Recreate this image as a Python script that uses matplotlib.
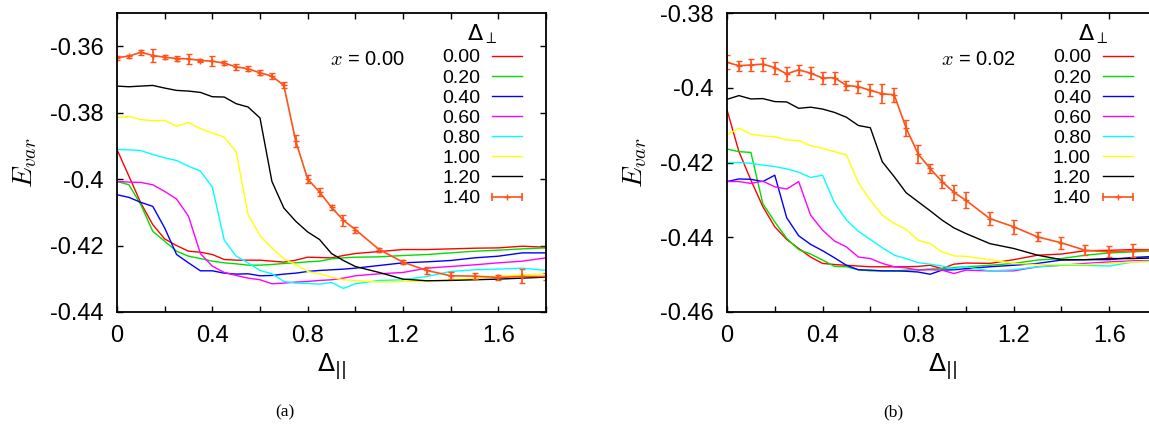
import matplotlib
matplotlib.use("Agg")
import matplotlib.pyplot as plt
from matplotlib.font_manager import FontProperties
from matplotlib.legend_handler import HandlerBase
from matplotlib.lines import Line2D
from matplotlib.ticker import MultipleLocator

plt.rcParams["font.family"] = ["Liberation Sans", "DejaVu Sans"]
plt.rcParams["mathtext.fontset"] = "cm"
plt.rcParams["axes.unicode_minus"] = False

# Delta_parallel grid shared by every curve
d_par = [0.0, 0.05, 0.1, 0.15, 0.2, 0.25, 0.3, 0.35, 0.4, 0.45, 0.5, 0.55, 0.6, 0.65,
         0.7, 0.75, 0.8, 0.85, 0.9, 0.95, 1.0, 1.1, 1.2, 1.3, 1.4, 1.5, 1.6, 1.7, 1.8]

d_perp_labels = ["0.00", "0.20", "0.40", "0.60", "0.80", "1.00", "1.20", "1.40"]
line_colors = ["#ff0000", "#00dd00", "#0000ff", "#ff00ff", "#00ffff", "#ffff00", "#000000"]
orange = "#ff5219"

# panel (a), x = 0.00
a_000 = [-0.3911, -0.3991, -0.4072, -0.4137, -0.4180, -0.4200, -0.4217, -0.4220, -0.4227, -0.4242,
         -0.4244, -0.4244, -0.4244, -0.4247, -0.4250, -0.4244, -0.4235, -0.4236, -0.4237, -0.4230,
         -0.4224, -0.4218, -0.4212, -0.4212, -0.4210, -0.4208, -0.4207, -0.4202, -0.4205]
a_020 = [-0.4007, -0.4017, -0.4077, -0.4157, -0.4187, -0.4217, -0.4232, -0.4239, -0.4247, -0.4252,
         -0.4255, -0.4259, -0.4259, -0.4257, -0.4254, -0.4252, -0.4249, -0.4247, -0.4240, -0.4237,
         -0.4235, -0.4234, -0.4230, -0.4227, -0.4222, -0.4217, -0.4214, -0.4210, -0.4207]
a_040 = [-0.4047, -0.4055, -0.4070, -0.4082, -0.4147, -0.4227, -0.4252, -0.4276, -0.4276, -0.4283,
         -0.4286, -0.4285, -0.4291, -0.4290, -0.4286, -0.4283, -0.4278, -0.4275, -0.4273, -0.4271,
         -0.4268, -0.4260, -0.4252, -0.4249, -0.4245, -0.4237, -0.4232, -0.4222, -0.4222]
a_060 = [-0.4007, -0.4009, -0.4010, -0.4017, -0.4037, -0.4060, -0.4112, -0.4224, -0.4262, -0.4281,
         -0.4290, -0.4298, -0.4303, -0.4315, -0.4313, -0.4310, -0.4308, -0.4305, -0.4303, -0.4298,
         -0.4291, -0.4285, -0.4281, -0.4268, -0.4263, -0.4258, -0.4252, -0.4247, -0.4237]
a_080 = [-0.3911, -0.3912, -0.3914, -0.3926, -0.3936, -0.3944, -0.3961, -0.3976, -0.4024, -0.4184,
         -0.4232, -0.4252, -0.4275, -0.4285, -0.4308, -0.4313, -0.4314, -0.4316, -0.4311, -0.4329,
         -0.4315, -0.4305, -0.4303, -0.4293, -0.4278, -0.4273, -0.4271, -0.4268, -0.4275]
a_100 = [-0.3815, -0.3811, -0.3821, -0.3824, -0.3823, -0.3841, -0.3830, -0.3848, -0.3861, -0.3874,
         -0.3918, -0.4107, -0.4170, -0.4207, -0.4240, -0.4258, -0.4278, -0.4285, -0.4295, -0.4303,
         -0.4305, -0.4310, -0.4308, -0.4308, -0.4303, -0.4298, -0.4293, -0.4288, -0.4285]
a_120 = [-0.3720, -0.3722, -0.3720, -0.3718, -0.3726, -0.3733, -0.3735, -0.3739, -0.3752, -0.3753,
         -0.3773, -0.3783, -0.3816, -0.4007, -0.4087, -0.4127, -0.4159, -0.4182, -0.4224, -0.4245,
         -0.4263, -0.4281, -0.4301, -0.4306, -0.4305, -0.4303, -0.4301, -0.4298, -0.4295]
a_140 = [-0.3634, -0.3630, -0.3618, -0.3628, -0.3633, -0.3637, -0.3638, -0.3643, -0.3645, -0.3651,
         -0.3662, -0.3668, -0.3680, -0.3690, -0.3718, -0.3886, -0.4000, -0.4039, -0.4085, -0.4124,
         -0.4152, -0.4212, -0.4250, -0.4275, -0.4291, -0.4292, -0.4296, -0.4293, -0.4293]
a_140_err = [0.0006, 0.0005, 0.0007, 0.0020, 0.0006, 0.0008, 0.0015, 0.0005, 0.0015, 0.0006,
             0.0009, 0.0008, 0.0008, 0.0009, 0.0009, 0.0018, 0.0012, 0.0012, 0.0007, 0.0017,
             0.0009, 0.0006, 0.0006, 0.0011, 0.0011, 0.0009, 0.0008, 0.0021, 0.0011]

# panel (b), x = 0.02
b_000 = [-0.4059, -0.4171, -0.4247, -0.4318, -0.4372, -0.4406, -0.4430, -0.4453, -0.4470, -0.4473,
         -0.4475, -0.4477, -0.4479, -0.4479, -0.4479, -0.4479, -0.4478, -0.4475, -0.4484, -0.4472,
         -0.4469, -0.4470, -0.4460, -0.4448, -0.4445, -0.4436, -0.4435, -0.4433, -0.4433]
b_020 = [-0.4164, -0.4171, -0.4173, -0.4310, -0.4359, -0.4403, -0.4433, -0.4445, -0.4461, -0.4478,
         -0.4479, -0.4487, -0.4490, -0.4490, -0.4490, -0.4488, -0.4487, -0.4485, -0.4484, -0.4481,
         -0.4479, -0.4475, -0.4470, -0.4461, -0.4457, -0.4448, -0.4442, -0.4439, -0.4436]
b_040 = [-0.4251, -0.4244, -0.4245, -0.4251, -0.4234, -0.4348, -0.4396, -0.4419, -0.4436, -0.4455,
         -0.4475, -0.4487, -0.4488, -0.4490, -0.4490, -0.4491, -0.4493, -0.4499, -0.4488, -0.4487,
         -0.4484, -0.4479, -0.4475, -0.4470, -0.4461, -0.4460, -0.4460, -0.4454, -0.4451]
b_060 = [-0.4251, -0.4251, -0.4256, -0.4250, -0.4265, -0.4271, -0.4251, -0.4341, -0.4381, -0.4410,
         -0.4426, -0.4453, -0.4457, -0.4470, -0.4479, -0.4482, -0.4488, -0.4487, -0.4488, -0.4497,
         -0.4488, -0.4490, -0.4490, -0.4479, -0.4475, -0.4470, -0.4466, -0.4463, -0.4462]
b_080 = [-0.4200, -0.4200, -0.4202, -0.4207, -0.4211, -0.4217, -0.4226, -0.4240, -0.4234, -0.4308,
         -0.4354, -0.4384, -0.4406, -0.4428, -0.4448, -0.4457, -0.4468, -0.4472, -0.4477, -0.4484,
         -0.4479, -0.4490, -0.4487, -0.4479, -0.4475, -0.4475, -0.4477, -0.4466, -0.4463]
b_100 = [-0.4126, -0.4108, -0.4124, -0.4129, -0.4131, -0.4140, -0.4141, -0.4155, -0.4162, -0.4171,
         -0.4180, -0.4254, -0.4301, -0.4341, -0.4363, -0.4379, -0.4408, -0.4417, -0.4439, -0.4450,
         -0.4451, -0.4460, -0.4470, -0.4473, -0.4473, -0.4473, -0.4470, -0.4466, -0.4466]
b_120 = [-0.4031, -0.4021, -0.4030, -0.4029, -0.4037, -0.4038, -0.4055, -0.4052, -0.4057, -0.4066,
         -0.4079, -0.4101, -0.4107, -0.4198, -0.4238, -0.4281, -0.4305, -0.4329, -0.4354, -0.4375,
         -0.4390, -0.4417, -0.4430, -0.4448, -0.4460, -0.4460, -0.4457, -0.4457, -0.4455]
b_140 = [-0.3932, -0.3941, -0.3939, -0.3937, -0.3946, -0.3963, -0.3952, -0.3961, -0.3974, -0.3973,
         -0.3994, -0.3997, -0.4007, -0.4016, -0.4019, -0.4108, -0.4177, -0.4216, -0.4251, -0.4280,
         -0.4301, -0.4350, -0.4372, -0.4399, -0.4415, -0.4435, -0.4439, -0.4436, -0.4434]
b_140_err = [0.0019, 0.0013, 0.0015, 0.0017, 0.0016, 0.0018, 0.0013, 0.0016, 0.0017, 0.0016,
             0.0013, 0.0016, 0.0016, 0.0025, 0.0018, 0.0022, 0.0025, 0.0013, 0.0018, 0.0021,
             0.0021, 0.0017, 0.0018, 0.0012, 0.0016, 0.0013, 0.0015, 0.0017, 0.0015]

x_ticks = [0, 0.4, 0.8, 1.2, 1.6]
x_tick_labels = ["0", "0.4", "0.8", "1.2", "1.6"]
a_y_ticks = [-0.44, -0.42, -0.40, -0.38, -0.36]
a_y_tick_labels = ["-0.44", "-0.42", "-0.4", "-0.38", "-0.36"]
b_y_ticks = [-0.46, -0.44, -0.42, -0.40, -0.38]
b_y_tick_labels = ["-0.46", "-0.44", "-0.42", "-0.4", "-0.38"]


class ErrKeyHandler(HandlerBase):
    # gnuplot style key: line with caps at both ends
    def create_artists(self, legend, orig_handle, xdescent, ydescent,
                       width, height, fontsize, trans):
        y = height / 2 - ydescent
        x0, x1 = -xdescent, width - xdescent
        line = Line2D([x0, x1], [y, y], color=orange, lw=1.2)
        caps = Line2D([x0, x1], [y, y], ls="none", marker="|", ms=6, mew=1.2, color=orange)
        mid = Line2D([(x0 + x1) / 2], [y], ls="none", marker="+", ms=4, mew=1.0, color=orange)
        for art in (line, caps, mid):
            art.set_transform(trans)
        return [line, caps, mid]


def draw_panel(ax, curves, top, top_err, ylim, yticks, yticklabels, x_text):
    handles = []
    for ys, color in zip(curves, line_colors):
        h, = ax.plot(d_par, ys, color=color, lw=1.0)
        handles.append(h)
    eb = ax.errorbar(d_par, top, yerr=top_err, color=orange, lw=1.2, elinewidth=1.2,
                     capsize=2, capthick=1.2, marker="+", ms=4, mew=1.0)
    handles.append(eb)

    ax.set_xlim(0, 1.8)
    ax.set_ylim(*ylim)
    ax.set_xticks(x_ticks)
    ax.set_xticklabels(x_tick_labels)
    ax.xaxis.set_minor_locator(MultipleLocator(0.2))
    ax.set_yticks(yticks)
    ax.set_yticklabels(yticklabels)
    ax.tick_params(which="both", direction="in", top=True, right=True,
                   length=4, width=1.0, labelsize=17)
    ax.tick_params(axis="x", pad=9)
    ax.tick_params(axis="y", pad=9.5)
    for sp in ax.spines.values():
        sp.set_linewidth(1.3)

    ax.set_xlabel(r"$\Delta_{||}$", fontsize=18, labelpad=3, math_fontfamily="dejavusans")
    ax.set_ylabel(r"$E_{var}$", fontsize=20, labelpad=8)
    ax.text(0.497, 0.843, r"$x$ = " + x_text, transform=ax.transAxes,
            fontsize=14.5, ha="left", va="center")

    title_font = FontProperties(family="DejaVu Sans", size=16, math_fontfamily="dejavusans")
    ax.legend(handles, d_perp_labels, title=r"$\Delta_{\perp}$", title_fontproperties=title_font,
              fontsize=14, frameon=False, markerfirst=False, loc="upper left",
              bbox_to_anchor=(0.735, 1.0), borderpad=0, labelspacing=0.13,
              handlelength=1.55, handletextpad=0.62,
              handler_map={eb: ErrKeyHandler()})


fig = plt.figure(figsize=(11.49, 4.42), dpi=100)
ax_a = fig.add_axes([117 / 1149, 130 / 442, 429 / 1149, 299 / 442])
ax_b = fig.add_axes([727 / 1149, 130 / 442, 430 / 1149, 299 / 442])

draw_panel(ax_a, [a_000, a_020, a_040, a_060, a_080, a_100, a_120], a_140, a_140_err,
           (-0.44, -0.35), a_y_ticks, a_y_tick_labels, "0.00")
draw_panel(ax_b, [b_000, b_020, b_040, b_060, b_080, b_100, b_120], b_140, b_140_err,
           (-0.46, -0.38), b_y_ticks, b_y_tick_labels, "0.02")

fig.text(285 / 1149, 1 - 412 / 442, "(a)", family="Liberation Serif", fontsize=12.5,
         ha="center", va="center")
fig.text(893 / 1149, 1 - 412 / 442, "(b)", family="Liberation Serif", fontsize=12.5,
         ha="center", va="center")

fig.savefig("out.png", dpi=100)
